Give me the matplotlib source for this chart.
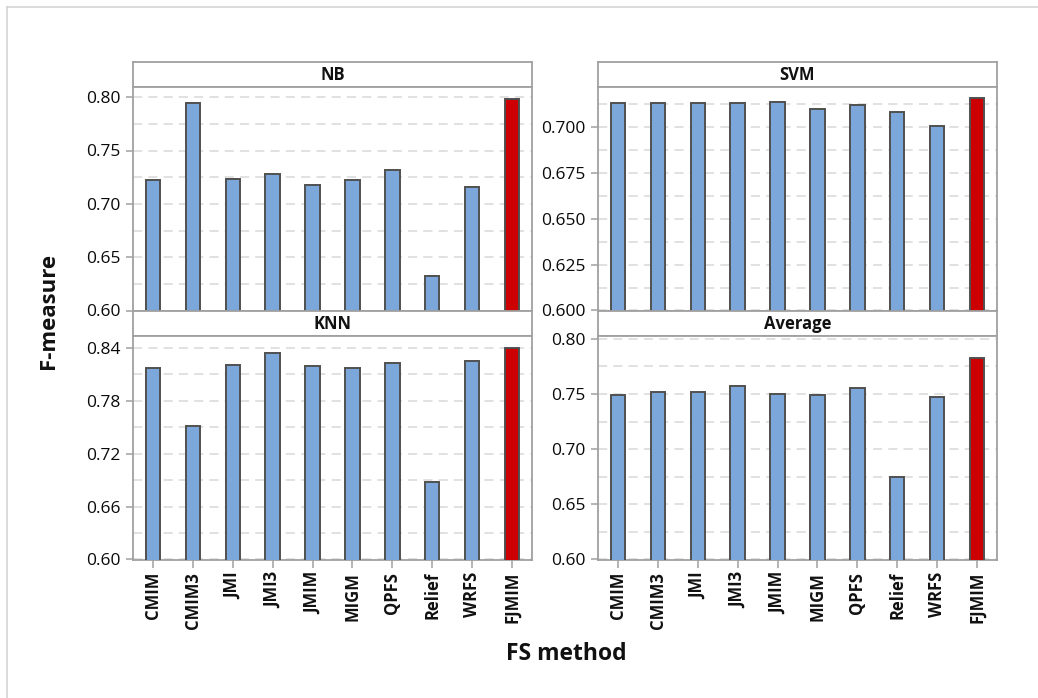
import matplotlib
matplotlib.use("Agg")
import matplotlib.pyplot as plt
from matplotlib.ticker import MultipleLocator, FormatStrFormatter
from matplotlib.lines import Line2D

plt.rcParams['font.family'] = ['Open Sans', 'DejaVu Sans']

methods = ["CMIM", "CMIM3", "JMI", "JMI3", "JMIM", "MIGM", "QPFS", "Relief", "WRFS", "FJMIM"]

nb_scores = [0.722, 0.795, 0.723, 0.728, 0.718, 0.722, 0.732, 0.632, 0.716, 0.798]
svm_scores = [0.7128, 0.7128, 0.7128, 0.7128, 0.7137, 0.7097, 0.7119, 0.7079, 0.7007, 0.7155]
knn_scores = [0.817, 0.751, 0.821, 0.834, 0.819, 0.817, 0.823, 0.688, 0.825, 0.840]
avg_scores = [0.749, 0.752, 0.752, 0.757, 0.750, 0.749, 0.755, 0.675, 0.747, 0.783]

panel_titles = ["NB", "SVM", "KNN", "Average"]

BLUE = "#7ba7da"
RED = "#cc0000"
EDGE = "#505050"
FRAME = "#a0a0a0"
GRID = "#d9d9d9"

W, H = 1038, 698
fig = plt.figure(figsize=(W / 100, H / 100), dpi=100)

# thin outer frame (top and left edges)
fig.add_artist(Line2D([6.5 / W, 1.0], [1 - 6.5 / H, 1 - 6.5 / H], transform=fig.transFigure,
                      color="#d4d4d4", lw=1.2))
fig.add_artist(Line2D([6.5 / W, 6.5 / W], [0.0, 1 - 6.5 / H], transform=fig.transFigure,
                      color="#d4d4d4", lw=1.2))

cols_x = [133, 598]
col_w = 399
rows = [(62, 86.5, 310.5), (311, 335.5, 559.5)]  # strip top, axes top, axes bottom

panels = [
    (nb_scores, (0.60, 0.81), 0.05, "%.2f"),
    (svm_scores, (0.60, 0.722), 0.025, "%.3f"),
    (knn_scores, (0.60, 0.854), 0.06, "%.2f"),
    (avg_scores, (0.60, 0.803), 0.05, "%.2f"),
]


def fbox(x0, y_top, w, y_bot):
    return [x0 / W, 1 - y_bot / H, w / W, (y_bot - y_top) / H]


for i, (scores, ylim, step, fmt) in enumerate(panels):
    r, c = divmod(i, 2)
    s_top, a_top, a_bot = rows[r]
    x0 = cols_x[c]

    # strip header
    sax = fig.add_axes(fbox(x0, s_top, col_w, a_top))
    sax.set_xticks([])
    sax.set_yticks([])
    for sp in sax.spines.values():
        sp.set_color(FRAME)
        sp.set_linewidth(1.3)
    sax.text(0.5, 0.48, panel_titles[i], ha="center", va="center", fontsize=12,
             fontweight="bold", color="#111111", transform=sax.transAxes)

    ax = fig.add_axes(fbox(x0, a_top, col_w, a_bot))
    xs = list(range(len(methods)))
    colors = [BLUE] * (len(methods) - 1) + [RED]
    ax.bar(xs, scores, width=0.36, color=colors, edgecolor=EDGE, linewidth=1.4, zorder=3)
    ax.set_xlim(-0.5, len(methods) - 0.5)
    ax.set_ylim(*ylim)

    ax.yaxis.set_major_locator(MultipleLocator(step))
    ax.yaxis.set_minor_locator(MultipleLocator(step / 2))
    ax.yaxis.set_major_formatter(FormatStrFormatter(fmt))
    ax.grid(True, which="both", axis="y", color=GRID, linestyle=(0, (6, 4)), linewidth=1.1, zorder=0)
    ax.grid(False, axis="x")

    for sp in ax.spines.values():
        sp.set_color(FRAME)
        sp.set_linewidth(1.3)

    ax.tick_params(axis="y", which="major", length=5, width=1.1, color=FRAME, pad=4,
                   labelsize=12.5, labelcolor="#0a0a0a")
    ax.tick_params(axis="y", which="minor", length=0)

    ax.set_xticks(xs)
    if r == 1:
        ax.set_xticklabels(methods, rotation=90, fontsize=12, fontweight="bold", color="#111111")
        ax.tick_params(axis="x", length=6, width=1.1, color=FRAME, pad=3)
    else:
        ax.set_xticklabels([])
        ax.tick_params(axis="x", length=0)
    ax.set_axisbelow(True)

fig.text(48 / W, 1 - 311 / H, "F-measure", rotation=90, ha="center", va="center",
         fontsize=16, fontweight="bold", color="#111111")
fig.text(566 / W, 1 - 654 / H, "FS method", ha="center", va="center",
         fontsize=16.5, fontweight="bold", color="#111111")

fig.savefig("out.png", dpi=100, facecolor="white")
